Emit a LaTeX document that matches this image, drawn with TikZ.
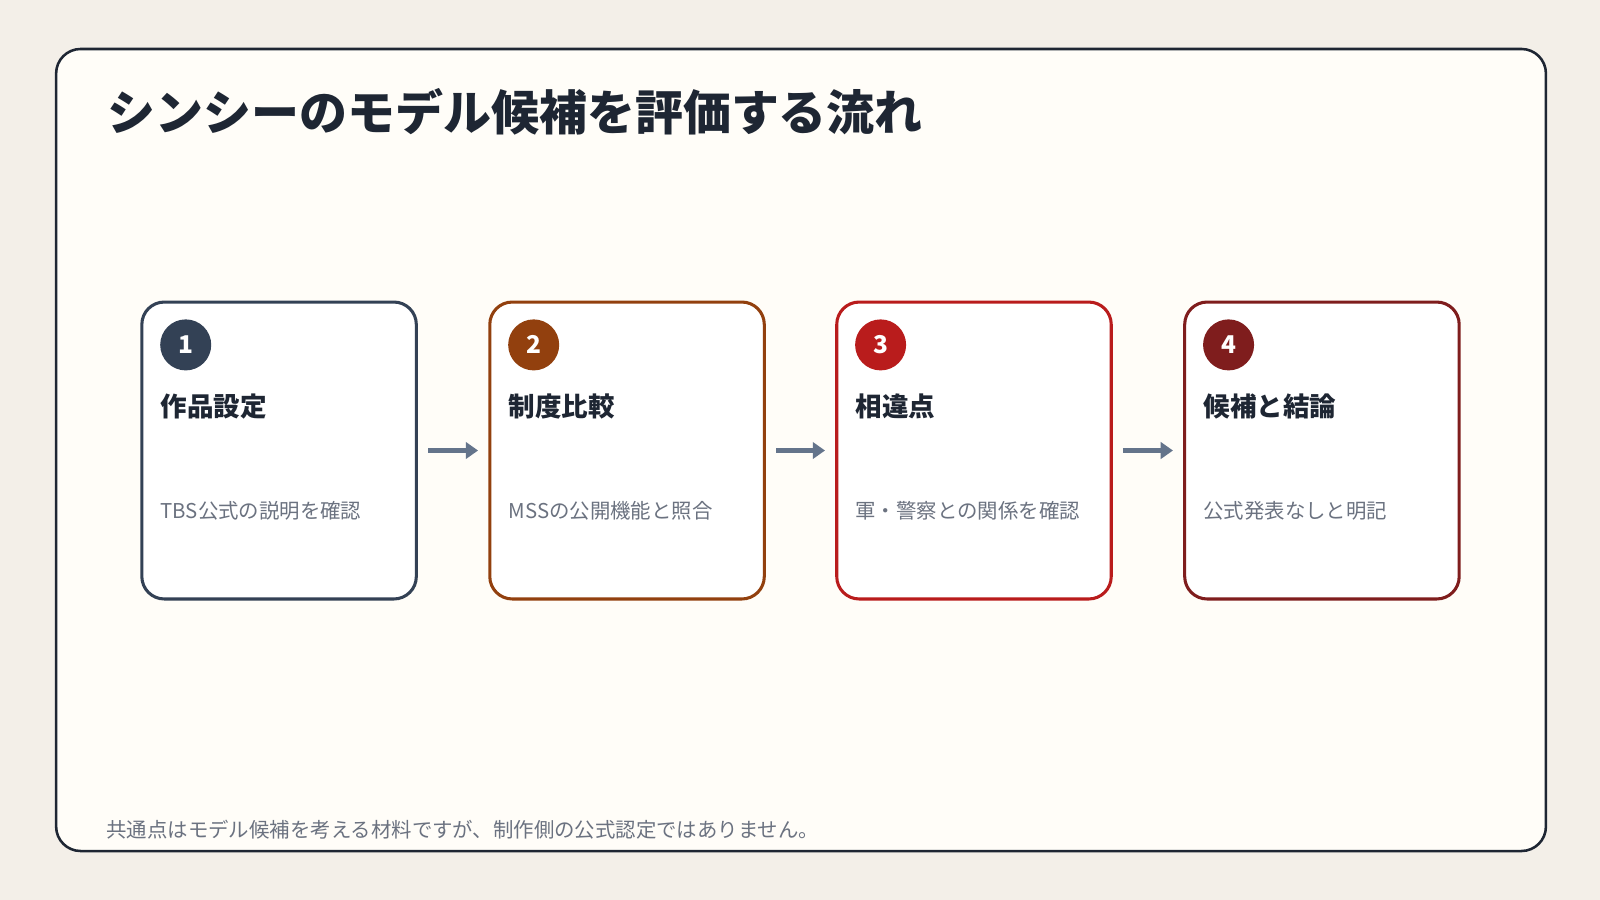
\documentclass[tikz,border=0pt]{standalone}
\usepackage{fontspec}
\usetikzlibrary{arrows.meta}
\setmainfont{Noto Sans CJK JP}
\definecolor{bg}{HTML}{F3EFE8}
\definecolor{panel}{HTML}{FFFDF8}
\definecolor{ink}{HTML}{1E2633}
\definecolor{muted}{HTML}{6B7280}
\definecolor{arr}{HTML}{64748B}
\definecolor{cA}{HTML}{334155}
\definecolor{cB}{HTML}{92400E}
\definecolor{cC}{HTML}{B91C1C}
\definecolor{cD}{HTML}{7F1D1D}
\begin{document}
\begin{tikzpicture}[x=0.5pt,y=-0.5pt,
  box/.style={draw=#1,line width=1.5pt,fill=white,rounded corners=11pt,minimum width=134.5pt,minimum height=145.5pt,inner sep=0pt},
  num/.style={circle,fill=#1,minimum size=25pt,inner sep=0pt,text=white,font=\fontsize{12}{12}\selectfont\bfseries},
  head/.style={anchor=west,inner sep=0pt,text=ink,font=\fontsize{13}{15}\selectfont\bfseries},
  desc/.style={anchor=west,inner sep=0pt,text=muted,font=\fontsize{10}{12}\selectfont},
  flow/.style={draw=arr,line width=2.5pt,-{Triangle[length=6pt,width=8pt]}}]
\fill[bg] (0,0) rectangle (1568,882);
\useasboundingbox (0,0) rectangle (1568,882);
\node[draw=ink,line width=1.25pt,fill=panel,rounded corners=12pt,minimum width=730pt,minimum height=393pt] (frame) at (785,441) {};
\node[anchor=west,inner sep=0pt,text=ink,font=\fontsize{23.5}{26}\selectfont\bfseries] (title) at (105,110) {シンシーのモデル候補を評価する流れ};
\foreach \i/\x/\c/\h/\d in {1/139/cA/作品設定/TBS公式の説明を確認, 2/480/cB/制度比較/MSSの公開機能と照合, 3/820/cC/相違点/軍・警察との関係を確認, 4/1161/cD/候補と結論/公式発表なしと明記}{
  \node[box=\c] (b\i) at (\x+134.5,441.5) {};
  \node[num=\c] (n\i) at (\x+43,338) {\i};
  \node[head] (h\i) at (\x+18,398) {\h};
  \node[desc] (d\i) at (\x+18,501) {\d};
}
\foreach \a/\b in {1/2,2/3,3/4}{
  \draw[flow] ([xshift=5pt]b\a.east) -- ([xshift=-5pt]b\b.west);
}
\node[anchor=west,inner sep=0pt,text=muted,font=\fontsize{10}{12}\selectfont] (foot) at (104,813) {共通点はモデル候補を考える材料ですが、制作側の公式認定ではありません。};
\end{tikzpicture}
\end{document}
